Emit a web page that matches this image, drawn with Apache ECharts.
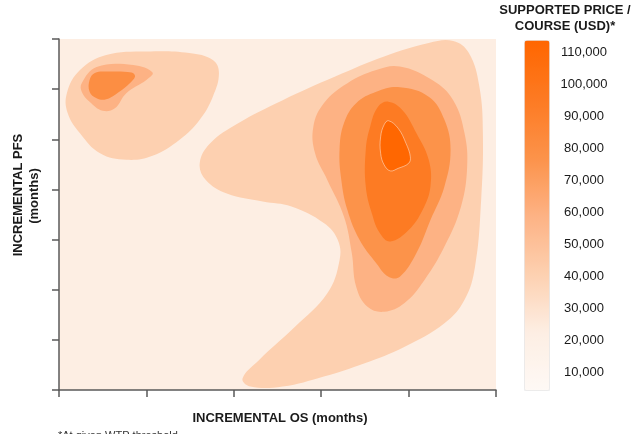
<!DOCTYPE html>
<html>
<head>
<meta charset="utf-8">
<script src="https://cdn.jsdelivr.net/npm/echarts@6/dist/echarts.min.js"></script>
<style>
  html, body { margin: 0; padding: 0; background: #fff; }
  #chart { width: 634px; height: 434px; }
</style>
</head>
<body>
<div id="chart"></div>
<script>
// contour outlines, in axis units (x: incremental OS, y: incremental PFS)
var tlOuter = [[0.24,6.38],[0.54,6.68],[1.00,6.75],[1.49,6.72],[1.76,6.58],[1.83,6.32],[1.76,5.85],[1.61,5.39],[1.38,4.99],[1.07,4.67],[0.77,4.59],[0.47,4.72],[0.24,5.12],[0.10,5.52],[0.09,5.92]];
var tlMid = [[0.26,6.12],[0.43,6.44],[0.85,6.48],[1.07,6.33],[1.00,6.18],[0.77,5.92],[0.64,5.62],[0.50,5.57],[0.35,5.75],[0.26,5.95]];
var tlInner = [[0.35,6.18],[0.41,6.32],[0.54,6.35],[0.83,6.33],[0.87,6.25],[0.81,6.12],[0.69,5.95],[0.54,5.80],[0.43,5.82],[0.35,5.95]];
var rOuter = [[4.51,6.96],[4.69,6.72],[4.81,6.05],[4.85,5.12],[4.83,3.79],[4.76,2.46],[4.64,1.80],[4.41,1.33],[3.95,0.86],[3.49,0.53],[3.03,0.27],[2.56,0.07],[2.19,0.07],[2.10,0.23],[2.29,0.60],[2.70,1.26],[3.07,1.93],[3.21,2.59],[3.19,2.99],[3.03,3.33],[2.66,3.66],[2.33,3.76],[1.92,3.92],[1.68,4.19],[1.61,4.52],[1.73,4.92],[2.05,5.32],[2.56,5.78],[3.16,6.25],[3.72,6.65],[4.23,6.92]];
var rMid = [[3.90,6.45],[4.27,6.18],[4.51,5.78],[4.64,5.12],[4.67,4.45],[4.60,3.66],[4.41,2.86],[4.18,2.19],[3.95,1.73],[3.72,1.56],[3.53,1.66],[3.40,2.06],[3.35,2.73],[3.26,3.46],[3.07,4.19],[2.93,4.72],[2.91,5.25],[3.03,5.72],[3.30,6.12],[3.63,6.38]];
var rLevel3 = [[3.90,6.04],[4.23,5.85],[4.41,5.39],[4.48,4.79],[4.41,4.06],[4.25,3.39],[4.09,2.73],[3.90,2.26],[3.77,2.26],[3.63,2.53],[3.44,2.99],[3.30,3.59],[3.23,4.19],[3.21,4.79],[3.26,5.32],[3.40,5.72],[3.63,5.95]];
var rLevel4 = [[3.77,5.75],[3.93,5.58],[4.09,5.12],[4.23,4.59],[4.25,4.06],[4.16,3.59],[4.00,3.19],[3.79,2.96],[3.67,3.13],[3.58,3.52],[3.51,4.06],[3.51,4.79],[3.56,5.25],[3.65,5.65]];
var rPeak = [[3.77,5.37],[3.88,5.22],[3.97,4.92],[4.02,4.65],[4.00,4.52],[3.88,4.42],[3.79,4.37],[3.72,4.49],[3.68,4.72],[3.68,5.05],[3.72,5.29]];

var contourShapes = [tlOuter, tlMid, tlInner, rOuter, rMid, rLevel3, rLevel4, rPeak];
// supported price (USD) of each filled band
var contourPrices = [41000, 59000, 80000, 41000, 59000, 77000, 95000, 113000];

var priceMin = 4375;
var priceMax = 113750;
var priceTicks = [10000, 20000, 30000, 40000, 50000, 60000, 70000, 80000, 90000, 100000, 110000];

var font = 'Liberation Sans, Arial, sans-serif';

var myChart = echarts.init(document.getElementById('chart'));

var seriesData = contourShapes.map(function (s, i) {
    return [i, contourPrices[i]];
});

var option = {
    animation: false,
    grid: [
        { left: 59, top: 39, width: 437, height: 351, show: true, backgroundColor: '#FDEEE3', borderWidth: 0 },
        { left: 524, top: 40, width: 25, height: 350 }
    ],
    xAxis: [
        {
            gridIndex: 0, type: 'value', min: 0, max: 5, interval: 1,
            axisLine: { lineStyle: { color: '#5a5a5a', width: 1.5 } },
            axisTick: { length: 7, lineStyle: { color: '#5a5a5a', width: 1.5 } },
            axisLabel: { show: false },
            splitLine: { show: false }
        },
        { gridIndex: 1, type: 'value', show: false, min: 0, max: 1 }
    ],
    yAxis: [
        {
            gridIndex: 0, type: 'value', min: 0, max: 7, interval: 1,
            axisLine: { lineStyle: { color: '#5a5a5a', width: 1.5 } },
            axisTick: { length: 7, lineStyle: { color: '#5a5a5a', width: 1.5 } },
            axisLabel: { show: false },
            splitLine: { show: false }
        },
        {
            gridIndex: 1, type: 'value', position: 'right',
            min: priceMin, max: priceMax,
            axisLine: { show: false },
            axisTick: { show: false },
            splitLine: { show: false },
            axisLabel: {
                customValues: priceTicks,
                align: 'center',
                margin: 35,
                fontSize: 13,
                fontFamily: font,
                color: '#1a1a1a',
                formatter: function (v) { return v.toLocaleString('en-US'); }
            }
        }
    ],
    visualMap: {
        type: 'continuous',
        seriesIndex: 0,
        dimension: 1,
        min: priceMin,
        max: priceMax,
        left: 524,
        top: 40,
        itemWidth: 25,
        itemHeight: 350,
        padding: 0,
        calculable: false,
        hoverLink: false,
        borderColor: '#eeeeee',
        borderWidth: 1,
        inRange: {
            color: ['#FEF9F5', '#FDEEE3', '#FDD0B0', '#FDB284', '#FC9249', '#FD7A22', '#FF6600']
        }
    },
    graphic: [
        { type: 'text', x: 280, y: 418, style: { text: 'INCREMENTAL OS (months)', font: 'bold 13px ' + font, fill: '#1a1a1a', align: 'center', verticalAlign: 'middle' } },
        { type: 'text', x: 18, y: 195, rotation: Math.PI / 2, style: { text: 'INCREMENTAL PFS', font: 'bold 13px ' + font, fill: '#1a1a1a', align: 'center', verticalAlign: 'middle' } },
        { type: 'text', x: 34, y: 196, rotation: Math.PI / 2, style: { text: '(months)', font: 'bold 13px ' + font, fill: '#1a1a1a', align: 'center', verticalAlign: 'middle' } },
        { type: 'text', x: 565, y: 10, style: { text: 'SUPPORTED PRICE /', font: 'bold 13px ' + font, fill: '#1a1a1a', align: 'center', verticalAlign: 'middle' } },
        { type: 'text', x: 565, y: 26, style: { text: 'COURSE (USD)*', font: 'bold 13px ' + font, fill: '#1a1a1a', align: 'center', verticalAlign: 'middle' } },
        { type: 'text', x: 58, y: 430, style: { text: '*At given WTP threshold', font: '11px ' + font, fill: '#333', align: 'left', verticalAlign: 'top' } }
    ],
    series: [
        {
            type: 'custom',
            xAxisIndex: 0,
            yAxisIndex: 0,
            clip: true,
            data: seriesData,
            renderItem: function (params, api) {
                var shape = contourShapes[api.value(0)];
                var pts = shape.map(function (p) { return api.coord(p); });
                var isPeak = api.value(0) === contourShapes.length - 1;
                return {
                    type: 'polygon',
                    shape: { points: pts, smooth: 0.4 },
                    style: {
                        fill: api.visual('color'),
                        stroke: isPeak ? 'rgba(255,255,255,0.55)' : null,
                        lineWidth: isPeak ? 0.8 : 0
                    }
                };
            }
        }
    ]
};

myChart.setOption(option);
window.addEventListener('resize', function () {
    myChart.resize();
});
</script>
</body>
</html>
